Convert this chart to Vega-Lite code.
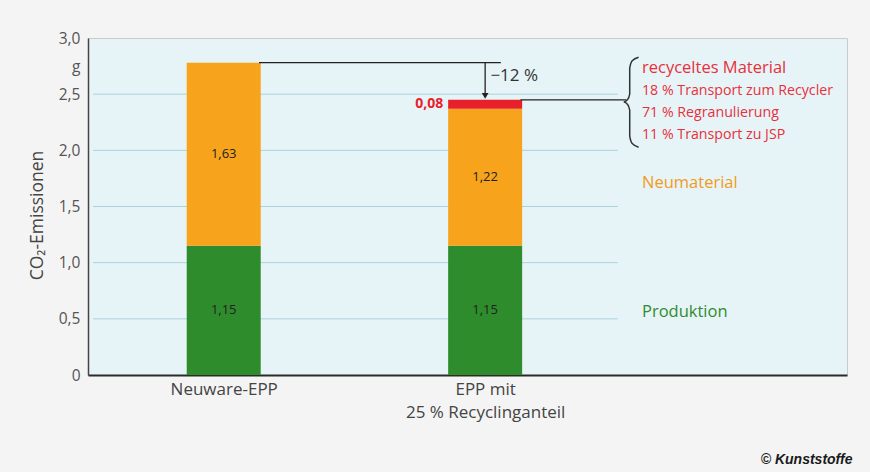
{
  "$schema": "https://vega.github.io/schema/vega-lite/v6.json",
  "width": 759,
  "height": 337,
  "autosize": "none",
  "padding": {"left": 88, "top": 38, "right": 23, "bottom": 97},
  "background": "#f4f4f4",
  "config": {"view": {"fill": "#e6f4f8", "stroke": "#c9cccd", "strokeWidth": 1}, "font": "Open Sans"},
  "datasets": {
    "bars": [
      {"product": "Neuware-EPP", "pos": 1, "segment": "Produktion", "stackOrder": 1, "value": 1.15},
      {"product": "Neuware-EPP", "pos": 1, "segment": "Neumaterial", "stackOrder": 2, "value": 1.63},
      {"product": "EPP mit 25 % Recyclinganteil", "pos": 3, "segment": "Produktion", "stackOrder": 1, "value": 1.15},
      {"product": "EPP mit 25 % Recyclinganteil", "pos": 3, "segment": "Neumaterial", "stackOrder": 2, "value": 1.22},
      {"product": "EPP mit 25 % Recyclinganteil", "pos": 3, "segment": "recyceltes Material", "stackOrder": 3, "value": 0.08}
    ],
    "grid": [{"y": 0.5}, {"y": 1}, {"y": 1.5}, {"y": 2}, {"y": 2.5}],
    "connectors": [
      {"x": 1.27, "x2": 3.12, "y": 2.78},
      {"x": 3.27, "x2": 4.08, "y": 2.45}
    ],
    "arrow": [{"x": 3.0, "y": 2.78, "y2": 2.5}],
    "arrowHead": [{"x": 3.0, "y": 2.485}],
    "brace": [
      {"i": 1, "x": 4.174, "y": 2.829},
      {"i": 2, "x": 4.125, "y": 2.797},
      {"i": 3, "x": 4.106, "y": 2.731},
      {"i": 4, "x": 4.106, "y": 2.5},
      {"i": 5, "x": 4.09, "y": 2.452},
      {"i": 6, "x": 4.06, "y": 2.43},
      {"i": 7, "x": 4.09, "y": 2.408},
      {"i": 8, "x": 4.106, "y": 2.358},
      {"i": 9, "x": 4.106, "y": 2.126},
      {"i": 10, "x": 4.125, "y": 2.06},
      {"i": 11, "x": 4.174, "y": 2.028}
    ],
    "redSmall": [
      {"t": "18 % Transport zum Recycler", "x": 4.2, "y": 2.527},
      {"t": "71 % Regranulierung", "x": 4.2, "y": 2.331},
      {"t": "11 % Transport zu JSP", "x": 4.2, "y": 2.135}
    ]
  },
  "layer": [
    {
      "data": {"name": "grid"},
      "mark": {"type": "rule", "color": "#a9d2db", "strokeWidth": 1},
      "encoding": {
        "y": {"field": "y", "type": "quantitative", "scale": {"domain": [0, 3], "nice": false},
          "axis": {
            "values": [0, 0.5, 1, 1.5, 2, 2.5, 2.75, 3],
            "labelExpr": "datum.value == 2.75 ? 'g' : (datum.value == 0 ? '0' : replace(format(datum.value, '.1f'), '.', ','))",
            "grid": false, "ticks": false, "domainColor": "#444", "domainWidth": 1.5,
            "labelFontSize": 15.5, "labelColor": "#555", "labelPadding": 8,
            "title": "CO₂-Emissionen", "titleFontSize": 17.5, "titleFontWeight": "normal", "titleColor": "#444",
            "titleX": -51, "titleY": 177, "titleAlign": "center", "titleBaseline": "middle", "titleAngle": -90
          }},
        "x": {"datum": 0, "type": "quantitative", "scale": {"domain": [0, 5.73], "nice": false, "zero": false},
          "axis": {
            "values": [1, 3],
            "labelExpr": "datum.value == 1 ? 'Neuware-EPP' : ['EPP mit', '25 % Recyclinganteil']",
            "grid": false, "ticks": false, "domainColor": "#2a2a2a", "domainWidth": 2,
            "labelFontSize": 17, "labelColor": "#444", "labelPadding": 6, "labelLineHeight": 23, "title": null
          }},
        "x2": {"datum": 4.015}
      }
    },
    {
      "data": {"name": "bars"},
      "transform": [
        {"stack": "value", "groupby": ["pos"], "sort": [{"field": "stackOrder"}], "as": ["y0", "y1"]}
      ],
      "mark": {"type": "bar", "width": 74},
      "encoding": {
        "x": {"field": "pos", "type": "quantitative"},
        "y": {"field": "y0", "type": "quantitative"},
        "y2": {"field": "y1"},
        "color": {"field": "segment", "type": "nominal", "legend": null,
          "scale": {"domain": ["Produktion", "Neumaterial", "recyceltes Material"], "range": ["#2f8c2c", "#f7a31c", "#e8202c"]}}
      }
    },
    {
      "data": {"name": "bars"},
      "transform": [
        {"stack": "value", "groupby": ["pos"], "sort": [{"field": "stackOrder"}], "as": ["y0", "y1"]},
        {"calculate": "(datum.y0 + datum.y1) / 2", "as": "mid"},
        {"filter": "datum.stackOrder < 3"},
        {"calculate": "replace(format(datum.value, '.2f'), '.', ',')", "as": "lab"}
      ],
      "mark": {"type": "text", "fontSize": 13, "color": "#222", "baseline": "middle"},
      "encoding": {
        "x": {"field": "pos", "type": "quantitative"},
        "y": {"field": "mid", "type": "quantitative"},
        "text": {"field": "lab"}
      }
    },
    {
      "data": {"name": "bars"},
      "transform": [
        {"stack": "value", "groupby": ["pos"], "sort": [{"field": "stackOrder"}], "as": ["y0", "y1"]},
        {"calculate": "(datum.y0 + datum.y1) / 2", "as": "mid"},
        {"filter": "datum.stackOrder == 3"},
        {"calculate": "replace(format(datum.value, '.2f'), '.', ',')", "as": "lab"}
      ],
      "mark": {"type": "text", "fontSize": 14, "fontWeight": "bold", "color": "#e8202c", "align": "right", "baseline": "middle", "dx": -42},
      "encoding": {
        "x": {"field": "pos", "type": "quantitative"},
        "y": {"field": "mid", "type": "quantitative"},
        "text": {"field": "lab"}
      }
    },
    {
      "data": {"name": "connectors"},
      "mark": {"type": "rule", "color": "#222", "strokeWidth": 1.3},
      "encoding": {
        "x": {"field": "x", "type": "quantitative"},
        "x2": {"field": "x2"},
        "y": {"field": "y", "type": "quantitative"}
      }
    },
    {
      "data": {"name": "arrow"},
      "mark": {"type": "rule", "color": "#222", "strokeWidth": 1.3},
      "encoding": {
        "x": {"field": "x", "type": "quantitative"},
        "y": {"field": "y", "type": "quantitative"},
        "y2": {"field": "y2"}
      }
    },
    {
      "data": {"name": "arrowHead"},
      "mark": {"type": "point", "shape": "triangle-down", "filled": true, "color": "#222", "size": 45, "opacity": 1},
      "encoding": {
        "x": {"field": "x", "type": "quantitative"},
        "y": {"field": "y", "type": "quantitative"}
      }
    },
    {
      "data": {"values": [{"t": "−12 %", "x": 3.04, "y": 2.66}]},
      "mark": {"type": "text", "fontSize": 17, "color": "#333", "align": "left", "baseline": "middle"},
      "encoding": {
        "x": {"field": "x", "type": "quantitative"},
        "y": {"field": "y", "type": "quantitative"},
        "text": {"field": "t"}
      }
    },
    {
      "data": {"name": "brace"},
      "mark": {"type": "line", "color": "#333", "strokeWidth": 1.5, "interpolate": "monotone"},
      "encoding": {
        "x": {"field": "x", "type": "quantitative"},
        "y": {"field": "y", "type": "quantitative"},
        "order": {"field": "i"}
      }
    },
    {
      "data": {"values": [{"t": "recyceltes Material", "x": 4.2, "y": 2.731}]},
      "mark": {"type": "text", "fontSize": 16.5, "color": "#e8303a", "align": "left", "baseline": "middle"},
      "encoding": {
        "x": {"field": "x", "type": "quantitative"},
        "y": {"field": "y", "type": "quantitative"},
        "text": {"field": "t"}
      }
    },
    {
      "data": {"name": "redSmall"},
      "mark": {"type": "text", "fontSize": 14.2, "color": "#e8303a", "align": "left", "baseline": "middle"},
      "encoding": {
        "x": {"field": "x", "type": "quantitative"},
        "y": {"field": "y", "type": "quantitative"},
        "text": {"field": "t"}
      }
    },
    {
      "data": {"values": [{"t": "Neumaterial", "x": 4.2, "y": 1.708}]},
      "mark": {"type": "text", "fontSize": 16.5, "color": "#f39a1a", "align": "left", "baseline": "middle"},
      "encoding": {
        "x": {"field": "x", "type": "quantitative"},
        "y": {"field": "y", "type": "quantitative"},
        "text": {"field": "t"}
      }
    },
    {
      "data": {"values": [{"t": "Produktion", "x": 4.2, "y": 0.56}]},
      "mark": {"type": "text", "fontSize": 16.5, "color": "#2f8c2c", "align": "left", "baseline": "middle"},
      "encoding": {
        "x": {"field": "x", "type": "quantitative"},
        "y": {"field": "y", "type": "quantitative"},
        "text": {"field": "t"}
      }
    },
    {
      "data": {"values": [{"t": "© Kunststoffe", "x": 5.81, "y": -0.756}]},
      "mark": {"type": "text", "font": "Liberation Sans", "fontSize": 14, "fontWeight": "bold", "fontStyle": "italic", "color": "#1a1a1a", "align": "right", "baseline": "middle"},
      "encoding": {
        "x": {"field": "x", "type": "quantitative"},
        "y": {"field": "y", "type": "quantitative"},
        "text": {"field": "t"}
      }
    }
  ]
}
